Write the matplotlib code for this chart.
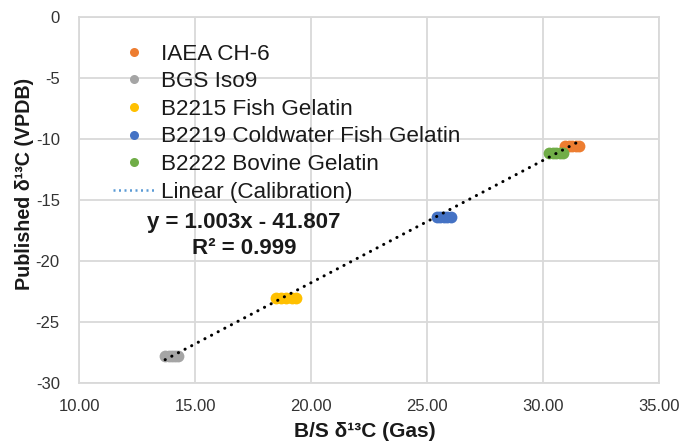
import matplotlib
matplotlib.use("Agg")
import matplotlib.pyplot as plt
from matplotlib.lines import Line2D
import numpy as np

plt.rcParams['font.family'] = ['Liberation Sans', 'DejaVu Sans']

# Data
series_names = ["IAEA CH-6", "BGS Iso9", "B2215 Fish Gelatin",
                "B2219 Coldwater Fish Gelatin", "B2222 Bovine Gelatin"]
colors = ["#ED7D31", "#A5A5A5", "#FFC000", "#4472C4", "#70AD47"]

ch6_x = [30.95, 31.10, 31.25, 31.40, 31.55]
ch6_y = [-10.51, -10.51, -10.51, -10.51, -10.51]
iso9_x = [13.70, 13.85, 14.00, 14.12, 14.26]
iso9_y = [-27.76, -27.76, -27.76, -27.76, -27.76]
b2215_x = [18.46, 18.70, 18.90, 19.15, 19.36]
b2215_y = [-23.01, -23.01, -23.01, -23.01, -23.01]
b2219_x = [25.41, 25.55, 25.70, 25.85, 26.02]
b2219_y = [-16.37, -16.37, -16.37, -16.37, -16.37]
b2222_x = [30.25, 30.40, 30.55, 30.70, 30.86]
b2222_y = [-11.16, -11.16, -11.16, -11.16, -11.16]

xs = [ch6_x, iso9_x, b2215_x, b2219_x, b2222_x]
ys = [ch6_y, iso9_y, b2215_y, b2219_y, b2222_y]

slope = 1.003
intercept = -41.807
r2 = 0.999

x_ticks = [10, 15, 20, 25, 30, 35]
y_ticks = [0, -5, -10, -15, -20, -25, -30]

fig = plt.figure(figsize=(6.84, 4.44), dpi=100)
ax = fig.add_axes([79.3 / 684, 1 - 383.3 / 444, (659.3 - 79.3) / 684, (383.3 - 17.3) / 444])

grid_c = "#D9D9D9"
text_c = "#1a1a1a"
for x, y, c in zip(xs, ys, colors):
    ax.plot(x, y, 'o', color=c, markersize=8.5, markeredgewidth=0, zorder=3)

all_x = np.concatenate([np.array(v) for v in xs])
lx = np.array([all_x.min(), all_x.max()])
ax.plot(lx, slope * lx + intercept, color='black', linestyle=(0, (0.05, 2.4)),
        linewidth=2.2, dash_capstyle='round', zorder=4)

ax.set_xlim(10, 35)
ax.set_ylim(-30, 0)
ax.set_xticks(x_ticks)
ax.set_xticklabels([f"{v:.2f}" for v in x_ticks])
ax.set_yticks(y_ticks)
ax.set_yticklabels([f"{v}" for v in y_ticks])
ax.grid(True, color=grid_c, linewidth=1.3, zorder=0)
ax.set_axisbelow(True)
for s in ax.spines.values():
    s.set_color(grid_c)
    s.set_linewidth(1.3)
ax.tick_params(length=0, labelsize=12, colors='#333333')
ax.tick_params(axis='x', pad=11)
ax.tick_params(axis='y', pad=14)

ax.set_xlabel("B/S δ¹³C (Gas)", fontsize=15, fontweight='bold', color=text_c)
ax.xaxis.set_label_coords(0.492, -0.106)
ax.set_ylabel("Published δ¹³C (VPDB)", fontsize=14.2, fontweight='bold', color=text_c)
ax.yaxis.set_label_coords(-0.078, 0.545)

handles = [Line2D([], [], marker='o', linestyle='none', color=c, markersize=6.5, markeredgewidth=0)
           for c in colors]
handles.append(Line2D([], [], color='#5B9BD5', linestyle=(0, (0.8, 1.4)), linewidth=1.8))
labels = series_names + ["Linear (Calibration)"]
leg = ax.legend(handles, labels, loc='upper left', bbox_to_anchor=(0.0426, 0.953),
                frameon=False, fontsize=16.2, handlelength=1.87, handletextpad=0.253,
                labelspacing=0.295, labelcolor=text_c, borderaxespad=0)

ax.text(0.284, 0.439, f"y = {slope:.3f}x - {abs(intercept):.3f}", transform=ax.transAxes,
        ha='center', va='center', fontsize=16, fontweight='bold', color=text_c)
ax.text(0.284, 0.367, f"R² = {r2:.3f}", transform=ax.transAxes,
        ha='center', va='center', fontsize=16, fontweight='bold', color=text_c)

fig.savefig("out.png", dpi=100)
